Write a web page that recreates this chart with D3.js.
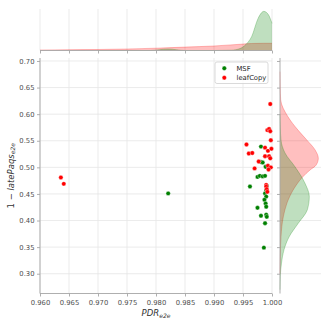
<!DOCTYPE html>
<html><head><meta charset="utf-8">
<script src="https://cdn.jsdelivr.net/npm/d3@7"></script>
<style>html,body{margin:0;padding:0;background:#fff;}svg{display:block;}</style>
</head><body>
<svg id="c" width="330" height="330"></svg>
<script>
// ---- data ----
const seriesNames = ["MSF", "leafCopy"];
const msfPDR  = [0.9821,0.9981,0.9981,0.9984,0.9989,0.9975,0.9979,0.9984,0.9988,0.9962,0.9991,0.9990,0.9988,0.9990,0.9987,0.9989,0.9990,0.9975,0.9981,0.9990,0.9991,0.9988,0.9986];
const msfLate = [0.451,0.539,0.510,0.509,0.501,0.482,0.484,0.483,0.484,0.464,0.465,0.457,0.451,0.445,0.439,0.432,0.426,0.424,0.409,0.411,0.407,0.395,0.349];
const leafPDR  = [0.9636,0.9641,0.9997,0.9992,0.9995,0.9997,0.9998,0.9956,0.9960,0.9966,0.9988,0.9993,0.9988,0.9995,0.9997,0.9999,0.9977,0.9970,0.9993,0.9998,0.9994,0.9990,0.9990,0.9991,0.9992];
const leafLate = [0.481,0.469,0.619,0.570,0.572,0.568,0.551,0.543,0.526,0.527,0.537,0.531,0.521,0.521,0.517,0.535,0.511,0.498,0.503,0.500,0.496,0.467,0.464,0.459,0.454];
const xTicks = [0.960,0.965,0.970,0.975,0.980,0.985,0.990,0.995,1.000];
const yTicks = [0.30,0.35,0.40,0.45,0.50,0.55,0.60,0.65,0.70];
// marginal densities (relative units)
const msfXpos  = [0.9700,0.9790,0.9821,0.9850,0.9900,0.9930,0.9945,0.9955,0.9965,0.9976,0.9986,0.9994,1.0000];
const msfXden  = [0,0,1.5,0,0,0.3,2,6,14,32,39,35.5,27];
const leafXpos = [0.9600,0.9650,0.9700,0.9750,0.9800,0.9850,0.9900,0.9945,0.9965,0.9985,1.0000];
const leafXden = [0.5,0.8,1.0,1.5,2.3,3.4,4.5,6.2,7.0,7.2,7.2];
const msfYpos  = [0.600,0.575,0.551,0.527,0.501,0.470,0.445,0.420,0.395,0.370,0.345,0.320,0.295,0.270];
const msfYden  = [0,0.3,1,5,15,25,29.3,27.3,18.3,9.3,4,1.5,0.3,0];
const leafYpos = [0.680,0.650,0.627,0.595,0.570,0.551,0.533,0.517,0.504,0.495,0.482,0.457,0.433,0.407,0.370,0.332,0.300];
const leafYden = [0,0.2,0.7,8,18,27,35,38.3,36,30,22.7,13,7,3.3,1,0.3,0];

const colors = {MSF:"#008000", leafCopy:"#ff0000"};

(function(){
// ---- layout ----
const svg = d3.select("#c");
const M = {l:40, r:272, t:58, b:293.5};
const TM = {t:9, b:50.5};
const RM = {l:280, r:321};
const gridCol = "#e6e6e6", spineCol = "#a6a6a6", textCol = "#4d4d4d";
const font = "DejaVu Sans";

const x = d3.scaleLinear().domain([0.960,1.000]).range([M.l,M.r]);
const y = d3.scaleLinear().domain([0.2628,0.7056]).range([M.b,M.t]);
const maxTop = d3.max(msfXden.concat(leafXden));
const dTop = d3.scaleLinear().domain([0, maxTop*1.06]).range([TM.b, TM.t]);
const maxRight = d3.max(msfYden.concat(leafYden));
const dRight = d3.scaleLinear().domain([0, maxRight*1.07]).range([RM.l, RM.r]);

// ---- grids ----
const g = svg.append("g");
g.selectAll("line").data(xTicks).join("line")
  .attr("x1",d=>x(d)).attr("x2",d=>x(d)).attr("y1",M.t).attr("y2",M.b)
  .attr("stroke",gridCol).attr("stroke-width",0.8);
const g2 = svg.append("g");
g2.selectAll("line").data(yTicks).join("line")
  .attr("x1",M.l).attr("x2",M.r).attr("y1",d=>y(d)).attr("y2",d=>y(d))
  .attr("stroke",gridCol).attr("stroke-width",0.8);
const g3 = svg.append("g");
g3.selectAll("line").data(xTicks).join("line")
  .attr("x1",d=>x(d)).attr("x2",d=>x(d)).attr("y1",TM.t).attr("y2",TM.b)
  .attr("stroke",gridCol).attr("stroke-width",0.8);
const g4 = svg.append("g");
g4.selectAll("line").data(yTicks).join("line")
  .attr("x1",RM.l).attr("x2",RM.r).attr("y1",d=>y(d)).attr("y2",d=>y(d))
  .attr("stroke",gridCol).attr("stroke-width",0.8);

// ---- marginal densities ----
function topArea(pos, den, col){
  const pts = pos.map((p,i)=>[p,den[i]]);
  svg.append("path").datum(pts)
    .attr("d", d3.area().x(d=>x(d[0])).y0(TM.b).y1(d=>dTop(d[1])).curve(d3.curveMonotoneX))
    .attr("fill", col).attr("fill-opacity",0.25);
  svg.append("path").datum(pts)
    .attr("d", d3.line().x(d=>x(d[0])).y(d=>dTop(d[1])).curve(d3.curveMonotoneX))
    .attr("fill","none").attr("stroke",col).attr("stroke-opacity",0.3).attr("stroke-width",0.8);
}
function rightArea(pos, den, col){
  const pts = pos.map((p,i)=>[p,den[i]]);
  svg.append("path").datum(pts)
    .attr("d", d3.area().y(d=>y(d[0])).x0(RM.l).x1(d=>dRight(d[1])).curve(d3.curveMonotoneY))
    .attr("fill", col).attr("fill-opacity",0.25);
  svg.append("path").datum(pts)
    .attr("d", d3.line().y(d=>y(d[0])).x(d=>dRight(d[1])).curve(d3.curveMonotoneY))
    .attr("fill","none").attr("stroke",col).attr("stroke-opacity",0.3).attr("stroke-width",0.8);
}
topArea(leafXpos, leafXden, colors.leafCopy);
topArea(msfXpos, msfXden, colors.MSF);
rightArea(leafYpos.slice().reverse(), leafYden.slice().reverse(), colors.leafCopy);
rightArea(msfYpos.slice().reverse(), msfYden.slice().reverse(), colors.MSF);

// ---- axes ----
const xAxis = d3.axisBottom(x).tickValues(xTicks).tickFormat(d3.format(".3f")).tickSize(3).tickPadding(3.5);
const yAxis = d3.axisLeft(y).tickValues(yTicks).tickFormat(d3.format(".2f")).tickSize(3).tickPadding(2.5);
function styleAxis(sel){
  sel.select(".domain").attr("stroke",spineCol).attr("stroke-width",0.9);
  sel.selectAll(".tick line").attr("stroke",spineCol).attr("stroke-width",0.9);
  sel.selectAll(".tick text").attr("fill",textCol).attr("font-family",font).attr("font-size","6.8px");
}
const gx = svg.append("g").attr("transform",`translate(0,${M.b})`).call(xAxis).call(styleAxis);
gx.select(".domain").attr("d",`M${M.l},0H${M.r}`);
const gy = svg.append("g").attr("transform",`translate(${M.l},0)`).call(yAxis).call(styleAxis);
gy.select(".domain").attr("d",`M0,${M.t}V${M.b}`);
const gtx = svg.append("g").attr("transform",`translate(0,${TM.b})`)
  .call(d3.axisBottom(x).tickValues(xTicks).tickFormat("").tickSize(3)).call(styleAxis);
gtx.select(".domain").attr("d",`M${M.l},0H${M.r}`);
const gry = svg.append("g").attr("transform",`translate(${RM.l},0)`)
  .call(d3.axisLeft(y).tickValues(yTicks).tickFormat("").tickSize(3)).call(styleAxis);
gry.select(".domain").attr("d",`M0,${M.t}V${M.b}`);

// ---- points ----
const pts = [];
msfPDR.forEach((v,i)=>pts.push({s:"MSF", px:v, py:msfLate[i]}));
leafPDR.forEach((v,i)=>pts.push({s:"leafCopy", px:v, py:leafLate[i]}));
svg.append("g").selectAll("circle").data(pts).join("circle")
  .attr("cx",d=>x(d.px)).attr("cy",d=>y(d.py)).attr("r",2.2)
  .attr("fill",d=>colors[d.s]).attr("stroke","#fff").attr("stroke-width",0.35);

// ---- axis labels ----
const xl = svg.append("text").attr("x",(M.l+M.r)/2).attr("y",316).attr("text-anchor","middle")
  .attr("font-family",font).attr("font-size","8.5px").attr("fill","#333").attr("font-style","italic");
xl.append("tspan").text("PDR");
xl.append("tspan").attr("font-size","6px").attr("dy","1.8").text("e2e");
const yl = svg.append("text").attr("transform",`translate(13.5,${(M.t+M.b)/2}) rotate(-90)`).attr("text-anchor","middle")
  .attr("font-family",font).attr("font-size","8.5px").attr("fill","#333");
yl.append("tspan").text("1 \u2212 ");
yl.append("tspan").attr("font-style","italic").text("latePaqs");
yl.append("tspan").attr("font-style","italic").attr("font-size","6px").attr("dy","1.8").text("e2e");

// ---- legend ----
const lg = svg.append("g");
lg.append("rect").attr("x",215).attr("y",62).attr("width",53).attr("height",21.5).attr("rx",2)
  .attr("fill","#fff").attr("fill-opacity",0.8).attr("stroke","#d0d0d0").attr("stroke-width",0.8);
seriesNames.forEach((s,i)=>{
  const yy = 68.3 + i*9.4;
  lg.append("circle").attr("cx",224.3).attr("cy",yy).attr("r",2.2).attr("fill",colors[s]).attr("stroke","#fff").attr("stroke-width",0.35);
  lg.append("text").attr("x",236.5).attr("y",yy+2.4).text(s).attr("font-family",font).attr("font-size","6.8px").attr("fill","#262626");
});
})();
</script>
</body></html>
